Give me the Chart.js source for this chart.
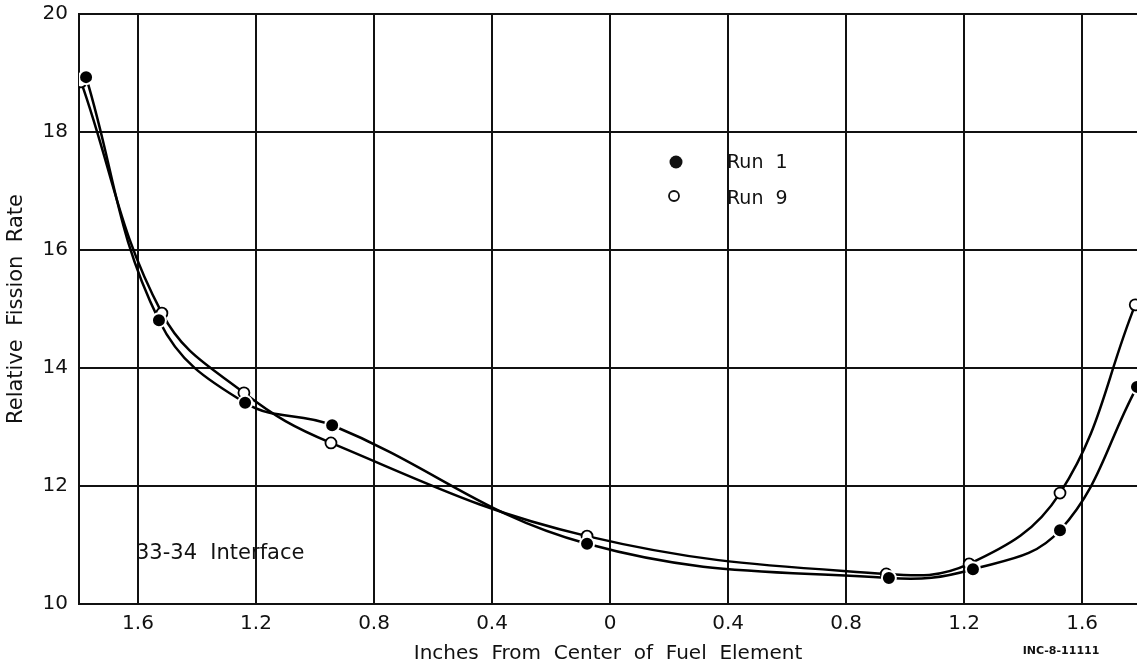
<!DOCTYPE html>
<html>
<head>
<meta charset="utf-8">
<title>Relative Fission Rate</title>
<script src="https://cdn.jsdelivr.net/npm/chart.js@4.4.0/dist/chart.umd.min.js"></script>
<style>
  html, body { margin: 0; padding: 0; background: #fff; }
</style>
</head>
<body>
<canvas id="fissionChart" width="1137" height="666"></canvas>
<script>
// distance from center of fuel element (in), negative = left side
const run1X = [-1.776, -1.529, -1.237, -0.942, -0.078, 0.945, 1.23, 1.525, 1.786];
const run1Y = [18.93, 14.81, 13.41, 13.03, 11.02, 10.44, 10.59, 11.25, 13.68];
const run9X = [-1.793, -1.519, -1.241, -0.946, -0.078, 0.936, 1.217, 1.525, 1.78];
const run9Y = [18.85, 14.93, 13.58, 12.73, 11.15, 10.51, 10.68, 11.88, 15.07];

const xTickValues = [-1.6, -1.2, -0.8, -0.4, 0, 0.4, 0.8, 1.2, 1.6];
const xTickLabels = ["1.6", "1.2", "0.8", "0.4", "0", "0.4", "0.8", "1.2", "1.6"];
const yTickValues = [10, 12, 14, 16, 18, 20];

const FONT = '"DejaVu Sans", "Liberation Sans", sans-serif';
const INK = "#111";

const toPoints = (xs, ys) => xs.map((x, i) => ({ x: x, y: ys[i] }));

// legend + notes written inside the plot
const notesPlugin = {
    id: "notes",
    afterDraw(chart) {
        const { ctx, chartArea } = chart;
        const left = chartArea.left;
        const top = chartArea.top;
        ctx.save();
        ctx.fillStyle = INK;
        ctx.strokeStyle = INK;

        // legend markers
        ctx.beginPath();
        ctx.arc(left + 597, top + 148, 6.5, 0, Math.PI * 2);
        ctx.fill();
        ctx.beginPath();
        ctx.lineWidth = 1.8;
        ctx.arc(left + 595, top + 182, 5, 0, Math.PI * 2);
        ctx.stroke();

        ctx.font = "19px " + FONT;
        ctx.textBaseline = "middle";
        ctx.textAlign = "left";
        ctx.fillText("Run  1", left + 648, top + 149);
        ctx.fillText("Run  9", left + 648, top + 185);

        ctx.font = "21px " + FONT;
        ctx.fillText("33-34  Interface", left + 57, top + 540);

        ctx.font = "bold 11px " + FONT;
        ctx.textAlign = "center";
        ctx.fillText("INC-8-11111", 1061, 651);
        ctx.restore();
    },
};

const ctx = document.getElementById("fissionChart");

new Chart(ctx, {
    type: "line",
    data: {
        datasets: [
            {
                label: "Run 1",
                data: toPoints(run1X, run1Y),
                borderColor: "#000",
                borderWidth: 2.5,
                tension: 0.4,
                pointRadius: 7,
                pointBackgroundColor: "#000",
                pointBorderColor: "#fff",
                pointBorderWidth: 2,
            },
            {
                label: "Run 9",
                data: toPoints(run9X, run9Y),
                borderColor: "#000",
                borderWidth: 2.5,
                tension: 0.4,
                pointRadius: 5.5,
                pointBackgroundColor: "#fff",
                pointBorderColor: "#000",
                pointBorderWidth: 1.8,
            },
        ],
    },
    options: {
        responsive: false,
        animation: false,
        layout: { autoPadding: false, padding: { top: 14, right: 0, left: 0, bottom: 0 } },
        plugins: {
            legend: { display: false },
            tooltip: { enabled: false },
        },
        scales: {
            x: {
                type: "linear",
                min: -1.8,
                max: 1.786,
                afterBuildTicks: (scale) => {
                    scale.ticks = xTickValues.map((v) => ({ value: v }));
                },
                afterFit: (scale) => {
                    scale.height = 62;
                    scale.paddingLeft = 0;
                    scale.paddingRight = 0;
                },
                ticks: {
                    padding: 8,
                    color: INK,
                    font: { family: FONT, size: 20 },
                    callback: (value) => xTickLabels[xTickValues.indexOf(value)],
                },
                grid: { color: INK, lineWidth: 2, drawTicks: false },
                border: { color: INK, width: 2 },
                title: {
                    display: true,
                    text: "Inches  From  Center  of  Fuel  Element",
                    color: INK,
                    font: { family: FONT, size: 20 },
                    padding: { top: 0, bottom: 0 },
                },
            },
            y: {
                min: 10,
                max: 20,
                afterBuildTicks: (scale) => {
                    scale.ticks = yTickValues.map((v) => ({ value: v }));
                },
                afterFit: (scale) => {
                    scale.width = 79;
                    scale.paddingTop = 0;
                    scale.paddingBottom = 0;
                },
                ticks: {
                    padding: 11,
                    color: INK,
                    font: { family: FONT, size: 20 },
                },
                grid: { color: INK, lineWidth: 2, drawTicks: false },
                border: { color: INK, width: 2 },
                title: {
                    display: true,
                    text: "Relative  Fission  Rate",
                    color: INK,
                    font: { family: FONT, size: 21 },
                    padding: { top: 4, bottom: 0 },
                },
            },
        },
    },
    plugins: [notesPlugin],
});
</script>
</body>
</html>
